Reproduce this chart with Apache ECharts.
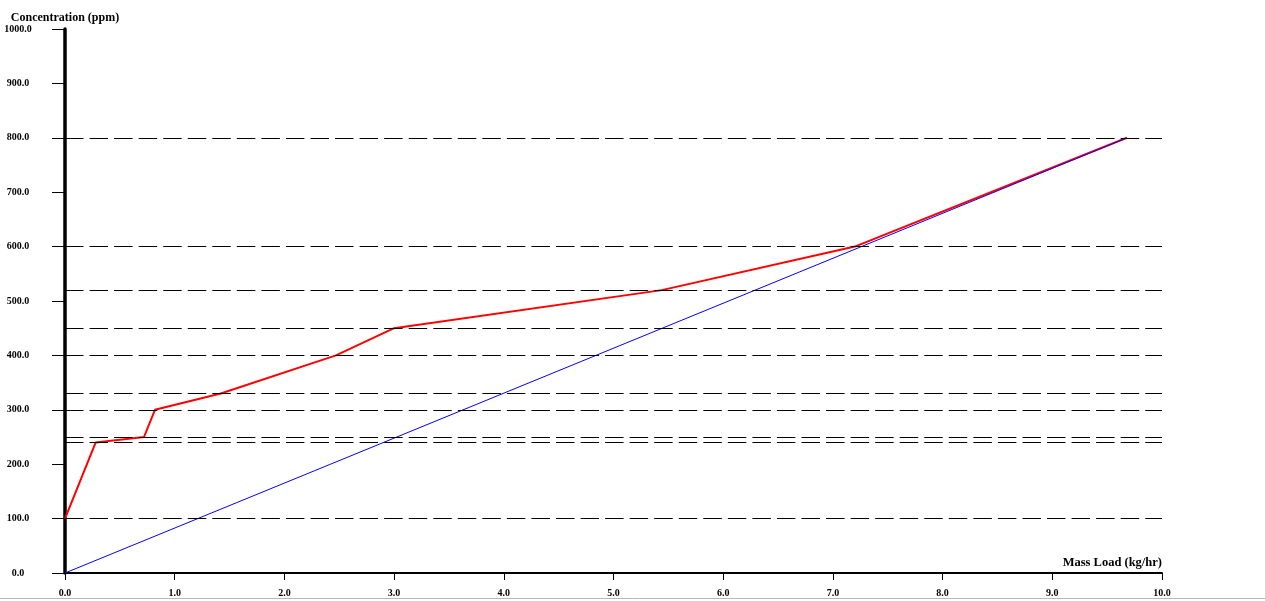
<!DOCTYPE html>
<html>
<head>
<meta charset="utf-8">
<script src="https://cdn.jsdelivr.net/npm/echarts@6/dist/echarts.min.js"></script>
<style>
html,body{margin:0;padding:0;background:#fff;}
#chart{width:1265px;height:601px;}
</style>
</head>
<body>
<div id="chart"></div>
<script>
// Composite (red) curve points: [mass load kg/hr, concentration ppm]
const compositeX = [0, 0.28, 0.72, 0.82, 1.42, 2.47, 3.0, 5.44, 7.2, 9.68];
const compositeY = [100, 240, 250, 300, 330, 400, 450, 520, 600, 800];
// Supply (blue) line
const supplyX = [0, 9.68];
const supplyY = [0, 800];
// Dashed reference concentration levels
const levels = [100, 240, 250, 300, 330, 400, 450, 520, 600, 800];
const xTitle = 'Mass Load (kg/hr)';
const yTitle = 'Concentration (ppm)';

const font = 'Liberation Serif';
const chart = echarts.init(document.getElementById('chart'), null, {renderer:'canvas'});
const pairs = (xs, ys) => xs.map((x, i) => [x, ys[i]]);

chart.setOption({
  animation: false,
  backgroundColor: '#fff',
  grid: {left: 65, right: 103, top: 29, bottom: 28, containLabel: false},
  xAxis: {
    type: 'value', min: 0, max: 10, interval: 1,
    name: xTitle, nameLocation: 'end', nameGap: 0,
    nameTextStyle: {fontFamily: font, fontWeight: 'bold', fontSize: 12.5, color: '#000',
      align: 'right', verticalAlign: 'bottom', padding: [0, 0, 4, 0]},
    axisLine: {show: true, lineStyle: {color: '#000', width: 2}},
    axisTick: {show: true, length: 7, lineStyle: {color: '#000', width: 1}},
    axisLabel: {fontFamily: font, fontWeight: 'bold', fontSize: 10, color: '#000', margin: 15,
      formatter: v => v.toFixed(1)},
    splitLine: {show: false}
  },
  yAxis: {
    type: 'value', min: 0, max: 1000, interval: 100,
    name: yTitle, nameLocation: 'end', nameGap: 9,
    nameTextStyle: {fontFamily: font, fontWeight: 'bold', fontSize: 12, color: '#000',
      align: 'center', verticalAlign: 'middle'},
    axisLine: {show: true, lineStyle: {color: '#000', width: 3.5}},
    axisTick: {show: true, length: 13, lineStyle: {color: '#000', width: 1}},
    axisLabel: {fontFamily: font, fontWeight: 'bold', fontSize: 10, color: '#000', margin: 47,
      align: 'center', formatter: v => v.toFixed(1)},
    splitLine: {show: false}
  },
  graphic: [{type: 'line', shape: {x1: 0, y1: 598.5, x2: 1265, y2: 598.5},
    style: {stroke: '#b8b8b8', lineWidth: 1}, silent: true}],
  series: [
    {
      type: 'line', data: [], silent: true,
      markLine: {
        silent: true, symbol: ['none', 'none'], label: {show: false},
        lineStyle: {color: '#000', width: 1, type: [18.5, 6.05]},
        emphasis: {disabled: true},
        data: levels.map(v => [{coord: [0, v]}, {coord: [10, v]}])
      }
    },
    {
      name: 'Composite', type: 'line', data: pairs(compositeX, compositeY),
      showSymbol: false, symbol: 'none', lineStyle: {color: '#ff0000', width: 2}
    },
    {
      name: 'Supply', type: 'line', data: pairs(supplyX, supplyY),
      showSymbol: false, symbol: 'none', lineStyle: {color: '#0000ff', width: 1}
    }
  ]
});
</script>
</body>
</html>
